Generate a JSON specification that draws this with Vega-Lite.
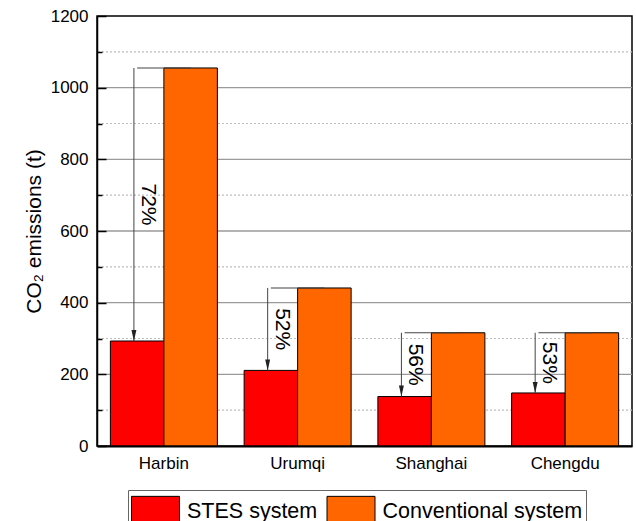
{
  "$schema": "https://vega.github.io/schema/vega-lite/v6.json",
  "width": 535,
  "height": 430,
  "autosize": {"type": "none"},
  "padding": {"left": 97, "top": 16, "right": 4, "bottom": 75},
  "background": "white",
  "config": {
    "font": "Liberation Sans",
    "view": {"stroke": "#000", "strokeWidth": 1.5},
    "axis": {"labelColor": "#000", "titleColor": "#000", "domainColor": "#000"}
  },
  "resolve": {"axis": {"y": "independent"}},
  "datasets": {
    "emissions": [
      {"city": "Harbin", "system": "STES system", "emissions": 293},
      {"city": "Harbin", "system": "Conventional system", "emissions": 1055},
      {"city": "Urumqi", "system": "STES system", "emissions": 211},
      {"city": "Urumqi", "system": "Conventional system", "emissions": 441},
      {"city": "Shanghai", "system": "STES system", "emissions": 138},
      {"city": "Shanghai", "system": "Conventional system", "emissions": 316},
      {"city": "Chengdu", "system": "STES system", "emissions": 148},
      {"city": "Chengdu", "system": "Conventional system", "emissions": 316}
    ],
    "majorGrid": [{"level": 200}, {"level": 400}, {"level": 600}, {"level": 800}, {"level": 1000}],
    "minorGrid": [{"level": 100}, {"level": 300}, {"level": 500}, {"level": 700}, {"level": 900}, {"level": 1100}]
  },
  "layer": [
    {
      "data": {"name": "minorGrid"},
      "mark": {"type": "rule", "color": "#bdbdbd", "strokeWidth": 1.2, "strokeDash": [2, 2], "zindex": 1},
      "encoding": {
        "y": {"field": "level", "type": "quantitative", "axis": null}
      }
    },
    {
      "data": {"name": "majorGrid"},
      "mark": {"type": "rule", "color": "#9a9a9a", "strokeWidth": 1.3, "zindex": 1},
      "encoding": {
        "y": {"field": "level", "type": "quantitative", "axis": null}
      }
    },
    {
      "data": {"name": "emissions"},
      "mark": {"type": "bar", "stroke": "#000", "strokeWidth": 1, "opacity": 1, "zindex": 2},
      "encoding": {
        "x": {
          "field": "city", "type": "nominal",
          "sort": ["Harbin", "Urumqi", "Shanghai", "Chengdu"],
          "scale": {"paddingInner": 0.2, "paddingOuter": 0.1},
          "axis": {
            "title": null, "ticks": false, "labelAngle": 0,
            "labelFontSize": 17, "labelPadding": 9,
            "domainWidth": 2, "grid": false, "zindex": 3
          }
        },
        "xOffset": {
          "field": "system", "type": "nominal",
          "sort": ["STES system", "Conventional system"],
          "scale": {"paddingInner": 0, "paddingOuter": 0}
        },
        "y": {
          "field": "emissions", "type": "quantitative",
          "title": "CO₂ emissions (t)",
          "scale": {"domain": [0, 1200], "nice": false, "zero": true},
          "axis": {
            "orient": "left",
            "values": [0, 200, 400, 600, 800, 1000, 1200],
            "format": "d",
            "labelFontSize": 17, "labelPadding": 18,
            "titleFontSize": 21, "titleFontWeight": "normal", "titlePadding": 6,
            "domainWidth": 1.5,
            "tickColor": "#000", "tickWidth": 1.5, "tickSize": -9,
            "grid": false, "zindex": 3
          }
        },
        "color": {
          "field": "system", "type": "nominal",
          "scale": {"domain": ["STES system", "Conventional system"], "range": ["#FF0000", "#FF6600"]},
          "legend": {
            "orient": "none", "legendX": 31, "legendY": 474,
            "direction": "horizontal", "columns": 2, "title": null,
            "symbolType": "M-1,-0.89H1V0.17H-1Z", "symbolSize": 2304,
            "symbolStrokeColor": "#000", "symbolStrokeWidth": 1, "symbolOpacity": 1,
            "labelFontSize": 21.5, "labelOffset": 7, "labelColor": "#000", "labelLimit": 0,
            "labelBaseline": "alphabetic",
            "columnPadding": 6.5, "padding": 3,
            "strokeColor": "#666", "fillColor": "white", "zindex": 3
          }
        }
      }
    },
    {
      "data": {"name": "emissions"},
      "transform": [
        {"pivot": "system", "value": "emissions", "groupby": ["city"]},
        {"calculate": "(datum['Conventional system'] - datum['STES system']) / datum['Conventional system']", "as": "reduction"},
        {"calculate": "(datum['Conventional system'] + datum['STES system']) / 2", "as": "labelY"}
      ],
      "resolve": {"axis": {"y": "independent"}},
      "layer": [
        {
          "mark": {"type": "tick", "orient": "horizontal", "size": 53.5, "thickness": 1, "color": "#444", "opacity": 1, "zindex": 3},
          "encoding": {
            "x": {"field": "city", "type": "nominal", "sort": ["Harbin", "Urumqi", "Shanghai", "Chengdu"], "bandPosition": 0.25},
            "y": {
              "field": "Conventional system", "type": "quantitative",
              "axis": {
                "orient": "left", "title": null,
                "values": [100, 300, 500, 700, 900, 1100],
                "labels": false, "domain": false, "grid": false,
                "ticks": true, "tickColor": "#000", "tickWidth": 1.5, "tickSize": -5,
                "zindex": 3
              }
            }
          }
        },
        {
          "mark": {"type": "rule", "color": "#444", "strokeWidth": 1, "zindex": 3},
          "encoding": {
            "x": {"field": "city", "type": "nominal", "sort": ["Harbin", "Urumqi", "Shanghai", "Chengdu"], "bandPosition": 0.22},
            "y": {"field": "Conventional system", "type": "quantitative", "axis": null},
            "y2": {"field": "STES system"}
          }
        },
        {
          "mark": {"type": "point", "shape": "M-0.45,-1L0.45,-1L0,1Z", "size": 121, "filled": true, "color": "#222", "opacity": 1, "yOffset": -5.5, "zindex": 3},
          "encoding": {
            "x": {"field": "city", "type": "nominal", "sort": ["Harbin", "Urumqi", "Shanghai", "Chengdu"], "bandPosition": 0.22},
            "y": {"field": "STES system", "type": "quantitative", "axis": null}
          }
        },
        {
          "mark": {"type": "text", "angle": 90, "align": "center", "baseline": "middle", "fontSize": 21, "color": "#000", "xOffset": 14, "zindex": 3},
          "encoding": {
            "x": {"field": "city", "type": "nominal", "sort": ["Harbin", "Urumqi", "Shanghai", "Chengdu"], "bandPosition": 0.22},
            "y": {"field": "labelY", "type": "quantitative", "axis": null},
            "text": {"field": "reduction", "type": "quantitative", "format": ".0%"}
          }
        }
      ]
    }
  ]
}
